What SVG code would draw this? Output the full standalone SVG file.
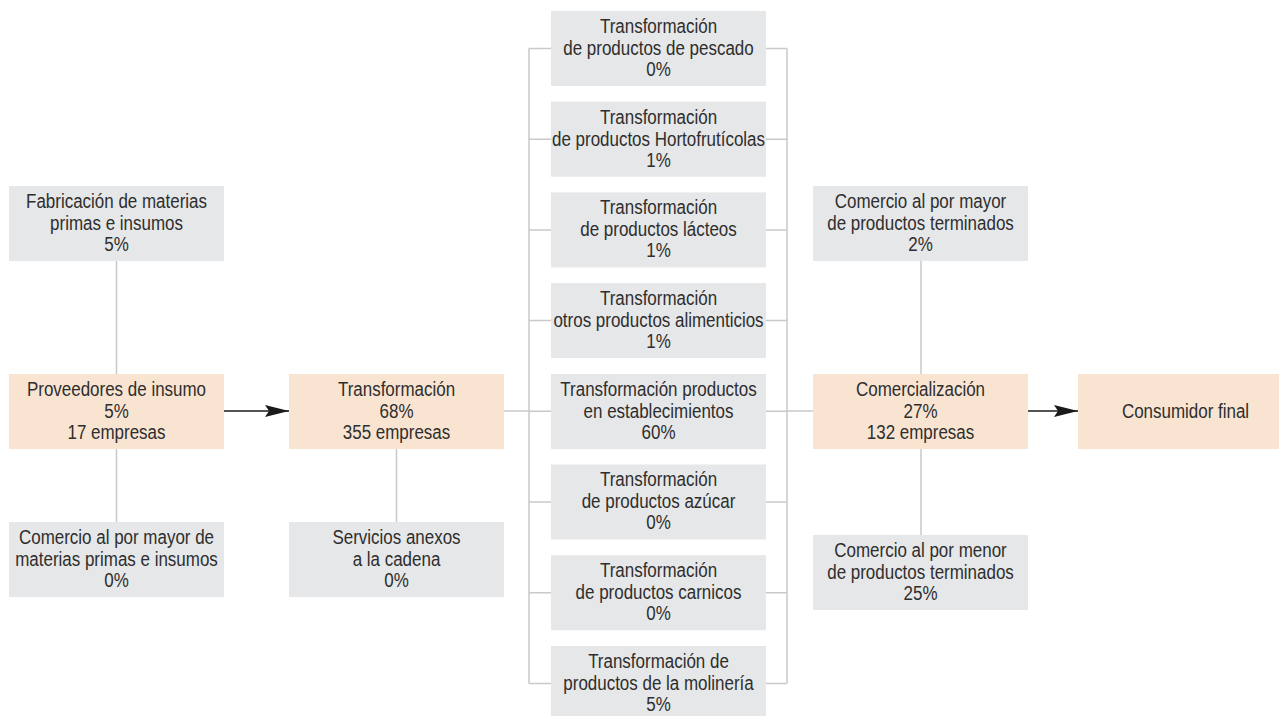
<svg xmlns="http://www.w3.org/2000/svg" width="1279" height="716" viewBox="0 0 1279 716">
<style>
.g{fill:#e6e7e8}
.p{fill:#f9e4d2}
.c{stroke:#c9c9c9;stroke-width:1.5;fill:none}
.a{stroke:#1a1a1a;stroke-width:1.6;fill:none}
text{font-family:"Liberation Sans",Arial,sans-serif;font-size:19.5px;fill:#2e2e2e;text-anchor:middle}
</style>
<defs>
<marker id="ah" markerUnits="userSpaceOnUse" markerWidth="26" markerHeight="14" refX="24" refY="6" orient="auto">
<path d="M0,0 L24,6 L0,12 L4,6 Z" fill="#1a1a1a"/>
</marker>
</defs>
<rect width="1279" height="716" fill="#fff"/>
<g id="connectors">
<path class="c" d="M116.5,261V374M116.5,449V522M396.5,449V522M921,261V374M921,449V535"/>
<path class="c" d="M504,411H529M529,48.5V683.4M787,48.5V683.4M787,411H813"/>
<path class="c" d="M529,48.5H551M529,139.2H551M529,229.9H551M529,320.6H551M529,502H551M529,592.7H551M529,683.4H551M529,411.3H551"/>
<path class="c" d="M766,48.5H787M766,139.2H787M766,229.9H787M766,320.6H787M766,502H787M766,592.7H787M766,683.4H787M766,411.3H787"/>
<line class="a" x1="224" y1="411" x2="289" y2="411" marker-end="url(#ah)"/>
<line class="a" x1="1028" y1="411" x2="1078" y2="411" marker-end="url(#ah)"/>
</g>
<g id="fabricacion"><rect class="g" x="9" y="186" width="215" height="75"/><g transform="translate(116.5,0) scale(0.87,1)"><text x="0" y="208">Fabricación de materias</text><text x="0" y="230">primas e insumos</text><text x="0" y="251">5%</text></g></g>
<g id="proveedores"><rect class="p" x="9" y="374" width="215" height="75"/><g transform="translate(116.5,0) scale(0.87,1)"><text x="0" y="396">Proveedores de insumo</text><text x="0" y="418">5%</text><text x="0" y="439">17 empresas</text></g></g>
<g id="comercio-mayor-mp"><rect class="g" x="9" y="522" width="215" height="75"/><g transform="translate(116.5,0) scale(0.87,1)"><text x="0" y="544">Comercio al por mayor de</text><text x="0" y="566">materias primas e insumos</text><text x="0" y="587">0%</text></g></g>
<g id="transformacion"><rect class="p" x="289" y="374" width="215" height="75"/><g transform="translate(396.5,0) scale(0.87,1)"><text x="0" y="396">Transformación</text><text x="0" y="418">68%</text><text x="0" y="439">355 empresas</text></g></g>
<g id="servicios"><rect class="g" x="289" y="522" width="215" height="75"/><g transform="translate(396.5,0) scale(0.87,1)"><text x="0" y="544">Servicios anexos</text><text x="0" y="566">a la cadena</text><text x="0" y="587">0%</text></g></g>
<g id="t-pescado"><rect class="g" x="551" y="11" width="215" height="75"/><g transform="translate(658.5,0) scale(0.87,1)"><text x="0" y="33">Transformación</text><text x="0" y="55">de productos de pescado</text><text x="0" y="76">0%</text></g></g>
<g id="t-horto"><rect class="g" x="551" y="101.7" width="215" height="75"/><g transform="translate(658.5,0) scale(0.87,1)"><text x="0" y="123.7">Transformación</text><text x="0" y="145.7">de productos Hortofrutícolas</text><text x="0" y="166.7">1%</text></g></g>
<g id="t-lacteos"><rect class="g" x="551" y="192.4" width="215" height="75"/><g transform="translate(658.5,0) scale(0.87,1)"><text x="0" y="214.4">Transformación</text><text x="0" y="236.4">de productos lácteos</text><text x="0" y="257.4">1%</text></g></g>
<g id="t-otros"><rect class="g" x="551" y="283.1" width="215" height="75"/><g transform="translate(658.5,0) scale(0.87,1)"><text x="0" y="305.1">Transformación</text><text x="0" y="327.1">otros productos alimenticios</text><text x="0" y="348.1">1%</text></g></g>
<g id="t-establecimientos"><rect class="g" x="551" y="374" width="215" height="75"/><g transform="translate(658.5,0) scale(0.87,1)"><text x="0" y="396">Transformación productos</text><text x="0" y="418">en establecimientos</text><text x="0" y="439">60%</text></g></g>
<g id="t-azucar"><rect class="g" x="551" y="464.5" width="215" height="75"/><g transform="translate(658.5,0) scale(0.87,1)"><text x="0" y="486.5">Transformación</text><text x="0" y="508.5">de productos azúcar</text><text x="0" y="529.5">0%</text></g></g>
<g id="t-carnicos"><rect class="g" x="551" y="555.2" width="215" height="75"/><g transform="translate(658.5,0) scale(0.87,1)"><text x="0" y="577.2">Transformación</text><text x="0" y="599.2">de productos carnicos</text><text x="0" y="620.2">0%</text></g></g>
<g id="t-molineria"><rect class="g" x="551" y="646" width="215" height="75"/><g transform="translate(658.5,0) scale(0.87,1)"><text x="0" y="668">Transformación de</text><text x="0" y="690">productos de la molinería</text><text x="0" y="711">5%</text></g></g>
<g id="comercio-mayor-pt"><rect class="g" x="813" y="186" width="215" height="75"/><g transform="translate(920.5,0) scale(0.87,1)"><text x="0" y="208">Comercio al por mayor</text><text x="0" y="230">de productos terminados</text><text x="0" y="251">2%</text></g></g>
<g id="comercializacion"><rect class="p" x="813" y="374" width="215" height="75"/><g transform="translate(920.5,0) scale(0.87,1)"><text x="0" y="396">Comercialización</text><text x="0" y="418">27%</text><text x="0" y="439">132 empresas</text></g></g>
<g id="comercio-menor-pt"><rect class="g" x="813" y="535" width="215" height="75"/><g transform="translate(920.5,0) scale(0.87,1)"><text x="0" y="557">Comercio al por menor</text><text x="0" y="579">de productos terminados</text><text x="0" y="600">25%</text></g></g>
<g id="consumidor"><rect class="p" x="1078" y="374" width="215" height="75"/><g transform="translate(1185.5,0) scale(0.87,1)"><text x="0" y="418">Consumidor final</text></g></g>
</svg>
